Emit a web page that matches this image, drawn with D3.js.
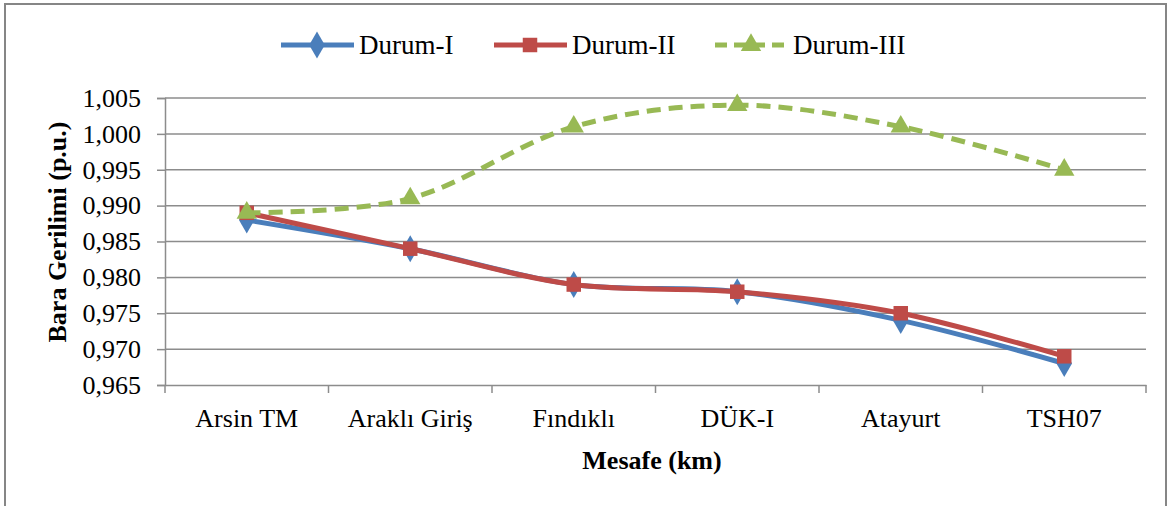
<!DOCTYPE html>
<html>
<head>
<meta charset="utf-8">
<script src="https://cdn.jsdelivr.net/npm/d3@7"></script>
<style>
  body { margin: 0; background: #fff; }
  text { font-family: "Liberation Serif", "Times New Roman", serif; fill: #000; }
</style>
</head>
<body>
<svg id="chart" width="1176" height="506"></svg>
<script>
// data
var categories = ["Arsin TM", "Araklı Giriş", "Fındıklı", "DÜK-I", "Atayurt", "TSH07"];
var durum1 = [0.988, 0.984, 0.979, 0.978, 0.974, 0.968];
var durum2 = [0.989, 0.984, 0.979, 0.978, 0.975, 0.969];
var durum3 = [0.989, 0.991, 1.001, 1.004, 1.001, 0.995];
var yTicks = [0.965, 0.970, 0.975, 0.980, 0.985, 0.990, 0.995, 1.000, 1.005];
var seriesNames = ["Durum-I", "Durum-II", "Durum-III"];

var svg = d3.select("#chart");
var plotL = 165, plotR = 1146, plotT = 98, plotB = 385;

// outer frame
svg.append("rect")
  .attr("x", 5).attr("y", 4).attr("width", 1161).attr("height", 520)
  .attr("fill", "none").attr("stroke", "#868686").attr("stroke-width", 2);

var x = d3.scaleBand().domain(categories).range([plotL, plotR]);
var y = d3.scaleLinear().domain([0.965, 1.005]).range([plotB, plotT]);
var fmt = function(d) { return d3.format(".3f")(d).replace(".", ","); };

// gridlines
svg.append("g").selectAll("line").data(yTicks.slice(1)).enter().append("line")
  .attr("x1", plotL).attr("x2", plotR)
  .attr("y1", function(d) { return y(d); }).attr("y2", function(d) { return y(d); })
  .attr("stroke", "#8c8c8c").attr("stroke-width", 1.5);

// y axis
var yAxis = svg.append("g").attr("transform", "translate(" + plotL + ",0)")
  .call(d3.axisLeft(y).tickValues(yTicks).tickFormat(fmt).tickSize(8).tickPadding(16));
yAxis.selectAll("line, path").attr("stroke", "#8c8c8c").attr("stroke-width", 1.5);
yAxis.selectAll("text").attr("font-size", 26).attr("font-family", "Liberation Serif");

// x axis
var xAxis = svg.append("g").attr("transform", "translate(0," + plotB + ")")
  .call(d3.axisBottom(x).tickSize(0).tickPadding(24));
xAxis.select("path").attr("stroke", "#8c8c8c").attr("stroke-width", 1.5);
xAxis.selectAll("text").attr("font-size", 26).attr("font-family", "Liberation Serif");
// boundary tick marks
svg.append("g").selectAll("line").data(categories.concat([null])).enter().append("line")
  .attr("x1", function(d, i) { return plotL + i * x.bandwidth(); })
  .attr("x2", function(d, i) { return plotL + i * x.bandwidth(); })
  .attr("y1", plotB).attr("y2", plotB + 8)
  .attr("stroke", "#8c8c8c").attr("stroke-width", 1.5);

// axis titles
svg.append("text").attr("x", 652).attr("y", 469).attr("text-anchor", "middle")
  .attr("font-size", 26).attr("font-weight", "bold").text("Mesafe  (km)");
svg.append("text").attr("transform", "translate(66,232) rotate(-90)").attr("text-anchor", "middle")
  .attr("font-size", 26).attr("font-weight", "bold").text("Bara Gerilimi (p.u.)");

var cx = function(d, i) { return x(categories[i]) + x.bandwidth() / 2; };
var line = d3.line().x(cx).y(function(d) { return y(d); }).curve(d3.curveCardinal.tension(0));

var styles = [
  { data: durum1, color: "#4a7ebb", dash: null, shape: d3.symbolDiamond, size: 210 },
  { data: durum2, color: "#be4b48", dash: null, shape: d3.symbolSquare, size: 210 },
  { data: durum3, color: "#98b954", dash: "14,8", shape: d3.symbolTriangle, size: 180 }
];

styles.forEach(function(s) {
  svg.append("path").datum(s.data).attr("d", line)
    .attr("fill", "none").attr("stroke", s.color).attr("stroke-width", 5)
    .attr("stroke-dasharray", s.dash);
  svg.append("g").selectAll("path").data(s.data).enter().append("path")
    .attr("d", d3.symbol().type(s.shape).size(s.size))
    .attr("transform", function(d, i) { return "translate(" + cx(d, i) + "," + y(d) + ")"; })
    .attr("fill", s.color);
});

// legend
var legendX = [281, 494, 715];
var leg = svg.append("g").selectAll("g").data(styles).enter().append("g")
  .attr("transform", function(d, i) { return "translate(" + legendX[i] + ",45)"; });
leg.append("line").attr("x1", 0).attr("x2", 73)
  .attr("stroke", function(d) { return d.color; }).attr("stroke-width", 5)
  .attr("stroke-dasharray", function(d) { return d.dash ? "12,7" : null; });
leg.append("path").attr("transform", "translate(36,0)")
  .attr("d", function(d) { return d3.symbol().type(d.shape).size(d.size)(); })
  .attr("fill", function(d) { return d.color; });
leg.append("text").attr("x", 78).attr("y", 9).attr("font-size", 27)
  .text(function(d, i) { return seriesNames[i]; });
</script>
</body>
</html>
